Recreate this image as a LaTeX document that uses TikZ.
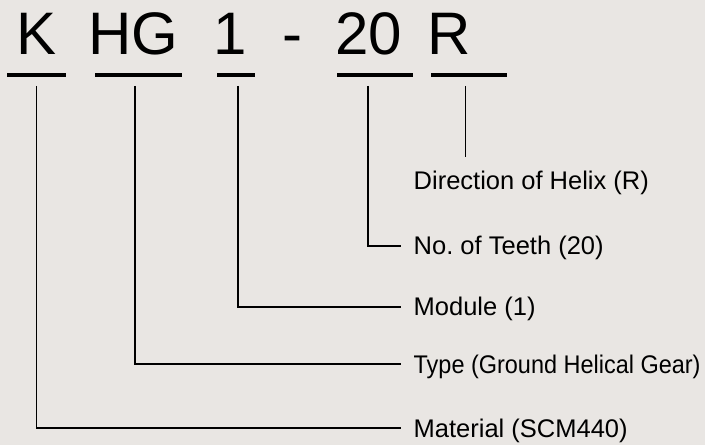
\documentclass[tikz,border=0pt]{standalone}
\usepackage{fontspec}
\setmainfont{Liberation Sans}
\definecolor{bgc}{HTML}{E9E6E3}
\begin{document}
\begin{tikzpicture}[x=1bp,y=-1bp,
  big/.style={anchor=base west,inner sep=0pt,font=\fontsize{60bp}{72bp}\selectfont},
  lbl/.style={anchor=base west,inner sep=0pt,font=\fontsize{25.5bp}{30bp}\selectfont},
  uline/.style={line width=3.8bp},
  conn/.style={line width=1.8bp}]
\useasboundingbox (0,0) rectangle (705,445);
\fill[bgc] (0,0) rectangle (705,445);
% code letters
\node[big] (k) at (16.6,55) {K};
\node[big] (hg) at (88.3,55) {HG};
\node[big] (one) at (213.5,55) {1};
\node[big] (dash) at (282.4,55) {-};
\node[big] (tw) at (335.2,55) {20};
\node[big] (r) at (427.4,55) {R};
% underlines
\draw[uline] (7,75.3) coordinate (ku1) -- (66,75.3) coordinate (ku2);
\draw[uline] (95,75.3) coordinate (hu1) -- (182,75.3) coordinate (hu2);
\draw[uline] (217,75.3) coordinate (ou1) -- (255,75.3) coordinate (ou2);
\draw[uline] (337,75.3) coordinate (tu1) -- (413,75.3) coordinate (tu2);
\draw[uline] (431,75.3) coordinate (ru1) -- (507,75.3) coordinate (ru2);
% labels
\node[lbl] (ldir) at (413.5,190) {Direction of Helix (R)};
\node[lbl] (lteeth) at (413.5,255) {No.\ of Teeth (20)};
\node[lbl] (lmod) at (413.5,316) {Module (1)};
\node[lbl] (ltype) at (413.5,373) {\scalebox{0.92}[1]{Type (Ground Helical Gear)}};
\node[lbl] (lmat) at (413.5,437) {Material (SCM440)};
% connector ends
\coordinate (rs) at (465.5,86);
\coordinate (re) at (465.5,157);
\coordinate (ts) at (368,86);
\coordinate (te) at (401,246);
\coordinate (os) at (238.3,86);
\coordinate (oe) at (401,307);
\coordinate (hs) at (135,86);
\coordinate (he) at (401,364);
\coordinate (ks) at (36.5,86);
\coordinate (ke) at (401,428);
% connectors
\draw[conn] (rs) -- (re);
\draw[conn] (ts) |- (te);
\draw[conn] (os) |- (oe);
\draw[conn] (hs) |- (he);
\draw[conn] (ks) |- (ke);
\end{tikzpicture}
\end{document}
